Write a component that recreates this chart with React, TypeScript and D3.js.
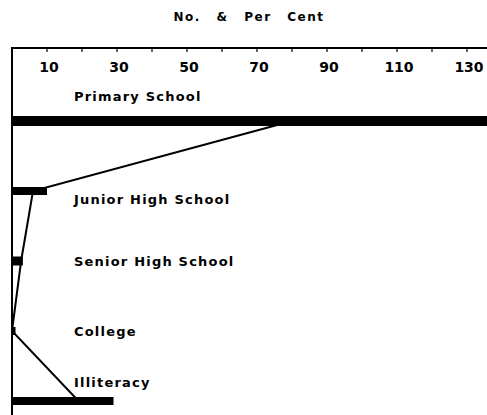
import React from "react";
import * as d3 from "d3";

const categories = ["Primary School", "Junior High School", "Senior High School", "College", "Illiteracy"];
const numbers = [140, 10, 3.1, 1, 29];
const perCent = [80, 6, 2.6, 0, 19];
const tickValues = [10, 30, 50, 70, 90, 110, 130];
const minorTicks = [10, 20, 30, 40, 50, 60, 70, 80, 90, 100, 110, 120, 130];
const title = "No. & Per Cent";

const W = 487;
const H = 415;
const labelDy = [-24, 9, 1, 1, -18];
const barH = [10, 8, 9, 8, 8];

export default function App() {
  const x = d3.scaleLinear().domain([0, 130]).range([12, 467]);
  const y = d3.scalePoint<string>().domain(categories).range([121, 401]);
  const line = d3
    .line<number>()
    .x((d) => x(d))
    .y((_, i) => y(categories[i]) as number);
  const font = "'DejaVu Sans', sans-serif";
  return (
    <svg width={W} height={H} style={{ position: "absolute", left: 0, top: 0 }}>
      <defs>
        <clipPath id="c">
          <rect x={0} y={0} width={W} height={H} />
        </clipPath>
      </defs>
      <rect width={W} height={H} fill="#fff" />
      <text x={249} y={21} textAnchor="middle" fontFamily={font} fontWeight="bold" fontSize={12} letterSpacing={1.5} wordSpacing={10}>
        {title}
      </text>
      {/* axes */}
      <line x1={x(0)} x2={W} y1={48} y2={48} stroke="#000" strokeWidth={2} />
      <line x1={x(0)} x2={x(0)} y1={47} y2={H} stroke="#000" strokeWidth={2} />
      {minorTicks.map((t) => (
        <line key={t} x1={x(t)} x2={x(t)} y1={48} y2={52} stroke="#000" strokeWidth={1.2} />
      ))}
      {tickValues.map((t) => (
        <text key={t} x={x(t) + 2} y={72} textAnchor="middle" fontFamily={font} fontWeight="bold" fontSize={14}>
          {t}
        </text>
      ))}
      {/* bars */}
      <g clipPath="url(#c)">
        {categories.map((c, i) => (
          <rect
            key={c}
            x={x(0)}
            y={(y(c) as number) - barH[i] / 2}
            width={x(numbers[i]) - x(0)}
            height={barH[i]}
            fill="#000"
          />
        ))}
      </g>
      {/* per cent line */}
      <path d={line(perCent) || ""} fill="none" stroke="#000" strokeWidth={2} />
      {categories.map((c, i) => (
        <text
          key={c}
          x={74}
          y={(y(c) as number) + labelDy[i]}
          dominantBaseline="middle"
          fontFamily={font}
          fontWeight="bold"
          fontSize={13}
          letterSpacing={1.2}
        >
          {c}
        </text>
      ))}
    </svg>
  );
}
